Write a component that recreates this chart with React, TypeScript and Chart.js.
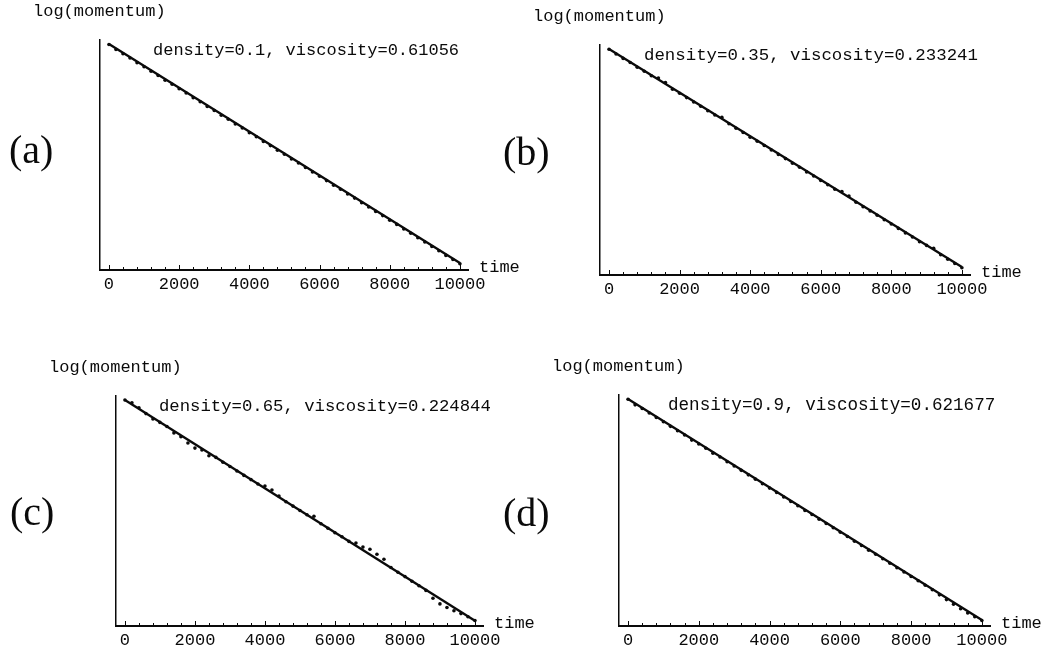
import React, { useEffect, useRef } from 'react';
import { Chart, registerables } from 'chart.js';

Chart.register(...registerables);

// ---- data ----
const times = [
  0, 200, 400, 600, 800, 1000, 1200, 1400, 1600, 1800, 2000, 2200, 2400, 2600, 2800, 3000, 3200,
  3400, 3600, 3800, 4000, 4200, 4400, 4600, 4800, 5000, 5200, 5400, 5600, 5800, 6000, 6200, 6400,
  6600, 6800, 7000, 7200, 7400, 7600, 7800, 8000, 8200, 8400, 8600, 8800, 9000, 9200, 9400, 9600,
  9800, 10000,
];
const fitTimes = [0, 10000];

const fitA = [22.6, 0.7];
const dotsA = [
  22.55, 22.05, 21.62, 21.2, 20.72, 20.33, 19.88, 19.45, 18.98, 18.58, 18.12, 17.7, 17.22, 16.83,
  16.36, 15.95, 15.48, 15.08, 14.6, 14.2, 13.73, 13.33, 12.86, 12.44, 11.97, 11.58, 11.1, 10.7,
  10.25, 9.8, 9.37, 8.94, 8.47, 8.07, 7.6, 7.19, 6.73, 6.3, 5.86, 5.44, 4.98, 4.56, 4.1, 3.68,
  3.22, 2.8, 2.35, 1.93, 1.46, 1.05, 0.62,
];

const fitB = [22.6, 0.8];
const dotsB = [
  22.58, 22.1, 21.66, 21.25, 20.78, 20.38, 19.93, 19.7, 19.25, 18.58, 18.17, 17.74, 17.3, 16.88,
  16.43, 16.0, 15.76, 15.13, 14.68, 14.25, 13.78, 13.38, 12.95, 12.5, 12.06, 11.64, 11.18, 10.78,
  10.31, 9.9, 9.46, 9.03, 8.58, 8.35, 7.9, 7.28, 6.83, 6.41, 5.97, 5.52, 5.1, 4.66, 4.21, 3.8,
  3.33, 2.96, 2.67, 2.03, 1.58, 1.15, 0.72,
];

const fitC = [22.6, 0.53];
const dotsC = [
  22.6, 22.33, 21.82, 21.24, 20.7, 20.36, 19.95, 19.31, 18.92, 18.3, 17.79, 17.6, 17.03, 16.86,
  16.38, 15.95, 15.5, 15.06, 14.64, 14.2, 14.0, 13.6, 12.99, 12.43, 11.99, 11.55, 11.12, 10.97,
  10.22, 9.78, 9.33, 8.92, 8.46, 8.3, 7.89, 7.67, 7.18, 6.67, 5.85, 5.37, 4.94, 4.48, 4.03, 3.56,
  2.78, 2.21, 1.85, 1.53, 1.24, 0.92, 0.55,
];

const fitD = [22.6, 0.6];
const dotsD = [
  22.58, 22.02, 21.66, 21.21, 20.76, 20.33, 19.88, 19.44, 19.02, 18.51, 18.12, 17.7, 17.21, 16.82,
  16.36, 15.93, 15.5, 15.05, 14.62, 14.17, 13.73, 13.3, 12.85, 12.4, 11.98, 11.5, 11.1, 10.64,
  10.21, 9.78, 9.33, 8.91, 8.44, 8.02, 7.55, 7.14, 6.69, 6.25, 5.8, 5.38, 4.93, 4.5, 4.05, 3.61,
  3.1, 2.63, 2.17, 1.72, 1.3, 0.92, 0.55,
];

const minorTicks = [
  0, 400, 800, 1200, 1600, 2000, 2400, 2800, 3200, 3600, 4000, 4400, 4800, 5200, 5600, 6000, 6400,
  6800, 7200, 7600, 8000, 8400, 8800, 9200, 9600, 10000,
];
const majorTicks = [0, 2000, 4000, 6000, 8000, 10000];

const panelLetters = ['(a)', '(b)', '(c)', '(d)'];
const densities = ['0.1', '0.35', '0.65', '0.9'];
const viscosities = ['0.61056', '0.233241', '0.224844', '0.621677'];
const yAxisLabel = 'log(momentum)';
const xAxisLabel = 'time';

// ---- layout (page pixels) ----
const W = 1056;
const H = 648;
const X_MIN = -255;
const X_MAX = 10230;
const Y_MIN = 0;
const Y_MAX = 23;
const XAXIS_H = 30;
const MONO = '"Liberation Mono", "DejaVu Sans Mono", monospace';
const SERIF = '"Liberation Serif", "DejaVu Serif", serif';
const INK = '#0a0a0a';

const panels = [
  { dots: dotsA, fit: fitA, area: { left: 100, top: 40, right: 468, bottom: 270 }, annX: 153, annSize: 17, letterX: 9, letterY: 152 },
  { dots: dotsB, fit: fitB, area: { left: 600, top: 45, right: 970, bottom: 275 }, annX: 644, annSize: 17.4, letterX: 503, letterY: 154 },
  { dots: dotsC, fit: fitC, area: { left: 116, top: 396, right: 483, bottom: 626 }, annX: 159, annSize: 17.3, letterX: 10, letterY: 514 },
  { dots: dotsD, fit: fitD, area: { left: 619, top: 395, right: 990, bottom: 626 }, annX: 668, annSize: 17.6, letterX: 503, letterY: 515 },
];

const overlayPlugin = {
  id: 'overlay',
  afterDraw(chart: any, _args: any, opts: any) {
    const { ctx, chartArea } = chart;
    const { left, top, right, bottom } = chartArea;
    const xs = chart.scales.x;
    ctx.save();
    // inward x ticks
    ctx.strokeStyle = INK;
    ctx.lineWidth = 1;
    for (const v of minorTicks) {
      const px = Math.round(xs.getPixelForValue(v)) + 0.5;
      const len = majorTicks.includes(v) ? 5 : 3;
      ctx.beginPath();
      ctx.moveTo(px, bottom);
      ctx.lineTo(px, bottom - len);
      ctx.stroke();
    }
    ctx.fillStyle = INK;
    ctx.textAlign = 'left';
    ctx.font = `17px ${MONO}`;
    ctx.textBaseline = 'middle';
    ctx.fillText(yAxisLabel, left - 67, top - 29);
    ctx.textBaseline = 'alphabetic';
    ctx.fillText(xAxisLabel, right + 11, bottom + 2);
    ctx.font = `${opts.annSize}px ${MONO}`;
    ctx.textBaseline = 'middle';
    ctx.fillText(opts.annotation, opts.annX, top + 10);
    ctx.font = `40px ${SERIF}`;
    ctx.fillText(opts.letter, opts.letterX, opts.letterY);
    ctx.restore();
  },
};

function Panel({ index }: { index: number }) {
  const ref = useRef<HTMLCanvasElement | null>(null);
  useEffect(() => {
    const p = panels[index];
    const canvas = ref.current;
    if (!canvas) return;
    const chart = new Chart(canvas, {
      type: 'scatter',
      data: {
        datasets: [
          {
            label: 'fit',
            data: fitTimes.map((t, i) => ({ x: t, y: p.fit[i] })),
            showLine: true,
            borderColor: INK,
            borderWidth: 2.4,
            pointRadius: 0,
            pointHoverRadius: 0,
          },
          {
            label: 'simulation',
            data: times.map((t, i) => ({ x: t, y: p.dots[i] })),
            showLine: false,
            pointRadius: 1.8,
            pointBorderWidth: 0,
            backgroundColor: INK,
            borderColor: INK,
          },
        ],
      },
      options: {
        responsive: false,
        animation: false,
        events: [],
        layout: {
          padding: {
            left: p.area.left,
            top: p.area.top,
            right: W - p.area.right,
            bottom: H - p.area.bottom - XAXIS_H,
          },
        },
        plugins: {
          legend: { display: false },
          tooltip: { enabled: false },
          overlay: {
            annotation: `density=${densities[index]}, viscosity=${viscosities[index]}`,
            letter: panelLetters[index],
            annX: p.annX,
            annSize: p.annSize,
            letterX: p.letterX,
            letterY: p.letterY,
          },
        } as any,
        scales: {
          x: {
            type: 'linear',
            min: X_MIN,
            max: X_MAX,
            afterBuildTicks: (scale: any) => {
              scale.ticks = minorTicks.map((v) => ({ value: v }));
            },
            afterFit: (scale: any) => {
              scale.height = XAXIS_H;
            },
            grid: { display: false, drawTicks: false },
            border: { display: true, color: INK, width: 2 },
            ticks: {
              autoSkip: false,
              maxRotation: 0,
              padding: 4,
              color: INK,
              font: { family: MONO, size: 17 },
              callback: (value: any) => (majorTicks.includes(Number(value)) ? String(value) : ''),
            },
          },
          y: {
            type: 'linear',
            min: Y_MIN,
            max: Y_MAX,
            afterFit: (scale: any) => {
              scale.width = 0;
            },
            grid: { display: false, drawTicks: false },
            border: { display: true, color: INK, width: 1.5 },
            ticks: { display: false },
          },
        },
      },
      plugins: [overlayPlugin],
    } as any);
    return () => chart.destroy();
  }, [index]);
  return (
    <canvas
      ref={ref}
      width={W}
      height={H}
      style={{ position: 'absolute', left: 0, top: 0, width: W, height: H }}
    />
  );
}

export default function App() {
  return (
    <div
      style={{
        position: 'absolute',
        left: 0,
        top: 0,
        width: W,
        height: H,
        background: '#fff',
        overflow: 'hidden',
      }}
    >
      {panels.map((_, i) => (
        <Panel key={i} index={i} />
      ))}
    </div>
  );
}
